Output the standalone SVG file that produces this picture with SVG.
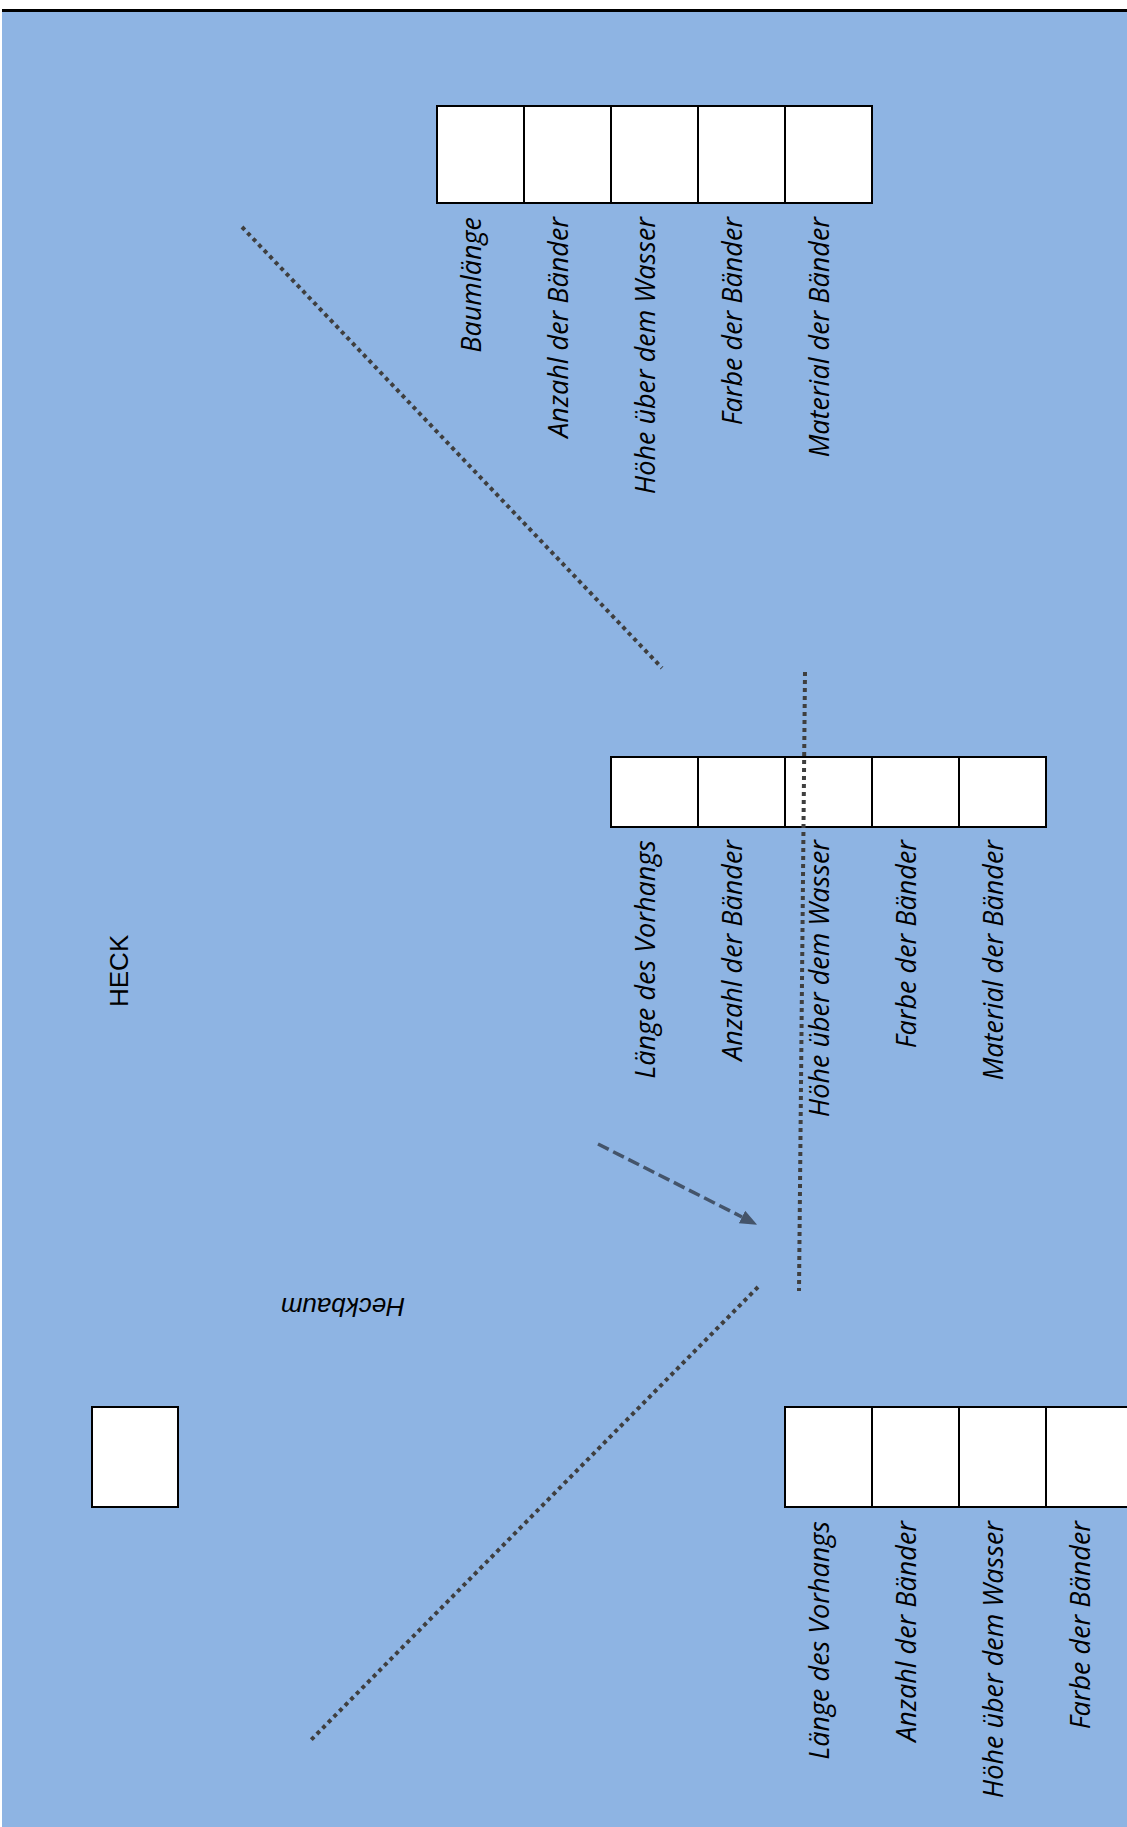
<svg xmlns="http://www.w3.org/2000/svg" width="1127" height="1827" viewBox="0 0 1127 1827">
  <style>
    .cell { fill: #ffffff; stroke: #000000; stroke-width: 2; }
    .lbl { font-family: "Open Sans", "Noto Sans", "DejaVu Sans", sans-serif; font-style: italic; font-size: 27px; fill: #000000; text-anchor: end; }
    .plain { font-family: "Liberation Sans", Arial, sans-serif; font-size: 26px; fill: #000000; }
    .dot { fill: none; stroke: #3f3f3f; stroke-width: 4; stroke-dasharray: 4 4; }
    .dash { fill: none; stroke: #44546a; stroke-width: 3.5; stroke-dasharray: 12 5; }
  </style>
  <defs>
    <marker id="arrow" markerUnits="userSpaceOnUse" markerWidth="20" markerHeight="16" refX="0" refY="7" orient="auto">
      <path d="M0,0 L17,7 L0,14 Z" fill="#44546a"/>
    </marker>
  </defs>

  <rect x="0" y="0" width="1127" height="1827" fill="#ffffff"/>
  <rect x="2" y="10" width="1125" height="1817" fill="#8eb4e3"/>
  <rect x="2" y="9" width="1125" height="3" fill="#000000"/>

  <g id="table-top">
    <rect class="cell" x="437" y="106" width="87" height="97"/>
    <rect class="cell" x="524" y="106" width="87" height="97"/>
    <rect class="cell" x="611" y="106" width="87" height="97"/>
    <rect class="cell" x="698" y="106" width="87" height="97"/>
    <rect class="cell" x="785" y="106" width="87" height="97"/>
    <text class="lbl" transform="translate(481,217) rotate(-90)">Baumlänge</text>
    <text class="lbl" transform="translate(568,217) rotate(-90)">Anzahl der Bänder</text>
    <text class="lbl" transform="translate(655,217) rotate(-90)">Höhe über dem Wasser</text>
    <text class="lbl" transform="translate(742,217) rotate(-90)">Farbe der Bänder</text>
    <text class="lbl" transform="translate(829,217) rotate(-90)">Material der Bänder</text>
  </g>

  <g id="table-middle">
    <rect class="cell" x="611" y="757" width="87" height="70"/>
    <rect class="cell" x="698" y="757" width="87" height="70"/>
    <rect class="cell" x="785" y="757" width="87" height="70"/>
    <rect class="cell" x="872" y="757" width="87" height="70"/>
    <rect class="cell" x="959" y="757" width="87" height="70"/>
    <text class="lbl" transform="translate(655,840) rotate(-90)">Länge des Vorhangs</text>
    <text class="lbl" transform="translate(742,840) rotate(-90)">Anzahl der Bänder</text>
    <text class="lbl" transform="translate(829,840) rotate(-90)">Höhe über dem Wasser</text>
    <text class="lbl" transform="translate(916,840) rotate(-90)">Farbe der Bänder</text>
    <text class="lbl" transform="translate(1003,840) rotate(-90)">Material der Bänder</text>
  </g>

  <g id="table-bottom">
    <rect class="cell" x="785" y="1407" width="87" height="100"/>
    <rect class="cell" x="872" y="1407" width="87" height="100"/>
    <rect class="cell" x="959" y="1407" width="87" height="100"/>
    <rect class="cell" x="1046" y="1407" width="87" height="100"/>
    <text class="lbl" transform="translate(829,1521) rotate(-90)">Länge des Vorhangs</text>
    <text class="lbl" transform="translate(916,1521) rotate(-90)">Anzahl der Bänder</text>
    <text class="lbl" transform="translate(1003,1521) rotate(-90)">Höhe über dem Wasser</text>
    <text class="lbl" transform="translate(1090,1521) rotate(-90)">Farbe der Bänder</text>
  </g>

  <g id="small-box">
    <rect class="cell" x="92" y="1407" width="86" height="100"/>
  </g>

  <g id="label-heck">
    <text class="plain" transform="translate(128,1007) rotate(-90)">HECK</text>
  </g>

  <g id="label-heckbaum">
    <text class="plain" font-style="italic" transform="translate(405,1298) rotate(180)">Heckbaum</text>
  </g>

  <g id="connectors">
    <line class="dot" x1="242" y1="227" x2="662" y2="668"/>
    <line class="dot" x1="805" y1="672" x2="799" y2="1291"/>
    <line class="dot" x1="758" y1="1287" x2="311" y2="1740"/>
    <line class="dash" x1="598" y1="1144" x2="742" y2="1217" marker-end="url(#arrow)"/>
  </g>
</svg>
